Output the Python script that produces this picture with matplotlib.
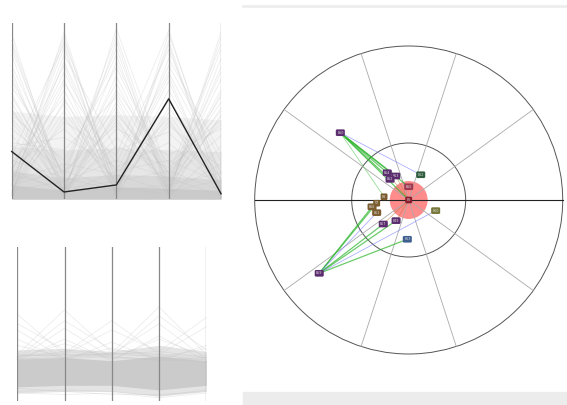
import matplotlib.pyplot as plt
from matplotlib.patches import Circle, Rectangle
from matplotlib.lines import Line2D
import numpy as np

# ---- parallel coordinates, upper panel (values normalised 0..1) ----
top_records = [
    [0.94, 0.03, 0.90, 0.02, 0.92], [0.88, 0.06, 0.70, 0.10, 0.85],
    [0.82, 0.02, 0.55, 0.04, 0.60], [0.76, 0.12, 0.93, 0.06, 0.75],
    [0.70, 0.04, 0.48, 0.15, 0.50], [0.64, 0.18, 0.82, 0.03, 0.95],
    [0.58, 0.08, 0.62, 0.20, 0.45], [0.52, 0.01, 0.50, 0.08, 0.68],
    [0.48, 0.22, 0.75, 0.12, 0.55], [0.46, 0.10, 0.46, 0.02, 0.48],
    [0.44, 0.05, 0.40, 0.25, 0.40], [0.40, 0.15, 0.86, 0.05, 0.80],
    [0.36, 0.03, 0.35, 0.10, 0.36], [0.32, 0.28, 0.58, 0.01, 0.30],
    [0.90, 0.09, 0.44, 0.07, 0.62], [0.55, 0.02, 0.97, 0.14, 0.88],
    [0.67, 0.14, 0.52, 0.04, 0.47], [0.28, 0.06, 0.30, 0.18, 0.42],
    [0.85, 0.11, 0.66, 0.09, 0.72], [0.60, 0.05, 0.78, 0.13, 0.58],
    [0.50, 0.16, 0.42, 0.06, 0.52], [0.73, 0.01, 0.60, 0.11, 0.44],
    [0.02, 0.95, 0.04, 0.90, 0.03], [0.08, 0.86, 0.02, 0.94, 0.10],
    [0.04, 0.78, 0.12, 0.70, 0.02], [0.15, 0.92, 0.06, 0.58, 0.06],
    [0.03, 0.66, 0.20, 0.85, 0.14], [0.20, 0.58, 0.03, 0.49, 0.04],
    [0.06, 0.50, 0.09, 0.76, 0.22], [0.11, 0.72, 0.15, 0.46, 0.01],
    [0.01, 0.47, 0.05, 0.62, 0.08], [0.25, 0.88, 0.01, 0.52, 0.12],
    [0.05, 0.44, 0.25, 0.96, 0.05], [0.09, 0.62, 0.07, 0.42, 0.18],
    [0.18, 0.40, 0.11, 0.67, 0.03], [0.03, 0.82, 0.28, 0.38, 0.09],
    [0.12, 0.54, 0.02, 0.80, 0.26], [0.30, 0.35, 0.18, 0.32, 0.07],
    [0.07, 0.90, 0.10, 0.56, 0.11], [0.13, 0.68, 0.04, 0.88, 0.02],
    [0.02, 0.56, 0.16, 0.72, 0.15], [0.16, 0.76, 0.08, 0.44, 0.06],
    [0.14, 0.06, 0.10, 0.16, 0.05], [0.22, 0.12, 0.05, 0.08, 0.15],
    [0.10, 0.20, 0.14, 0.04, 0.11], [0.05, 0.10, 0.22, 0.12, 0.02],
    [0.17, 0.03, 0.16, 0.22, 0.09], [0.08, 0.16, 0.06, 0.03, 0.20],
]
# density layers near the bottom (upper edge per axis, light to dark)
top_layers = [([0.50, 0.47, 0.48, 0.47, 0.45], '#f3f3f3'),
              ([0.30, 0.28, 0.29, 0.28, 0.27], '#e6e6e6'),
              ([0.16, 0.12, 0.14, 0.13, 0.11], '#d8d8d8'),
              ([0.08, 0.05, 0.07, 0.06, 0.05], '#cacaca')]
selected = [0.27, 0.04, 0.08, 0.57, 0.03]

# ---- parallel coordinates, lower panel ----
bottom_records = [
    [0.56, 0.30, 0.28, 0.27, 0.25], [0.50, 0.33, 0.30, 0.29, 0.28],
    [0.46, 0.27, 0.29, 0.26, 0.27], [0.30, 0.59, 0.31, 0.28, 0.27],
    [0.28, 0.52, 0.33, 0.30, 0.26], [0.27, 0.47, 0.28, 0.27, 0.28],
    [0.29, 0.31, 0.52, 0.30, 0.29], [0.27, 0.30, 0.46, 0.32, 0.28],
    [0.30, 0.29, 0.31, 0.61, 0.30], [0.28, 0.32, 0.29, 0.55, 0.33],
    [0.27, 0.28, 0.30, 0.50, 0.27], [0.29, 0.30, 0.30, 0.32, 0.54],
    [0.27, 0.28, 0.31, 0.30, 0.48], [0.40, 0.26, 0.38, 0.26, 0.36],
    [0.26, 0.40, 0.26, 0.42, 0.26], [0.36, 0.28, 0.34, 0.28, 0.34],
    [0.28, 0.37, 0.27, 0.40, 0.29],
    [0.05, 0.04, 0.05, 0.02, 0.05], [0.06, 0.07, 0.06, 0.03, 0.07],
    [0.08, 0.06, 0.04, 0.04, 0.06],
]
bottom_layers = [([0.05, 0.06, 0.06, 0.03, 0.06], [0.33, 0.34, 0.32, 0.36, 0.32], '#e4e4e4'),
                 ([0.09, 0.10, 0.10, 0.07, 0.10], [0.27, 0.28, 0.26, 0.29, 0.26], '#cbcbcb')]

# ---- radial graph (outer ring radius = 1) ----
ring_radii = [1.0, 0.37]
spoke_angles = [36, 72, 108, 144]
focus_radius = 0.123
node_labels = ['E50', 'E54', 'E53', 'E52', 'E62', 'E55', 'E0', 'E8', 'E7',
               'E56', 'E51', 'E60', 'E57', 'E49', 'E63', 'E59']
node_x = [-0.444, -0.139, -0.084, -0.121, 0.078, 0.0, 0.0, -0.160, -0.208,
          -0.238, -0.208, 0.175, -0.165, -0.082, -0.009, -0.581]
node_y = [0.437, 0.177, 0.156, 0.134, 0.164, 0.086, 0.0, 0.021, -0.021,
          -0.044, -0.082, -0.069, -0.156, -0.134, -0.255, -0.476]
node_colors = ['#5b2d6e', '#5b2d6e', '#5b2d6e', '#5b2d6e', '#2e5e3e', '#a03a50',
               '#8a1c2c', '#7a5c2e', '#7a5c2e', '#7a5c2e', '#7a5c2e', '#77773a',
               '#5b2d6e', '#5b2d6e', '#3f5f8f', '#5b2d6e']
# (from, to, kind)
edges = [
    (0, 1, 'g'), (0, 2, 'g'), (0, 3, 'g'), (0, 6, 'g'), (0, 5, 'g'),
    (0, 7, 'lg'), (0, 4, 'b'),
    (15, 8, 'g'), (15, 9, 'g'), (15, 12, 'g'), (15, 13, 'g'), (15, 14, 'g'),
    (15, 11, 'b'), (15, 10, 'b'),
    (1, 6, 'o'), (2, 6, 'o'), (12, 6, 'o'), (13, 6, 'o'),
]
edge_style = {'g': ('#2db52d', 0.9, 0.7), 'lg': ('#66cc66', 0.5, 0.8),
              'b': ('#7777ff', 0.5, 0.7), 'o': ('#b87333', 0.5, 0.6)}

W, H = 567, 405
fig = plt.figure(figsize=(W / 100, H / 100), dpi=100)


def px_axes(x0, y0, x1, y1):
    return fig.add_axes([x0 / W, 1 - y1 / H, (x1 - x0) / W, (y1 - y0) / H])


def parallel(ax, records, layers):
    xs = np.arange(5)
    for lo, hi, c in layers:
        ax.fill_between(xs, lo, hi, color=c, lw=0, clip_on=False)
    for r in records:
        ax.plot(xs, r, color='#c4c4c4', alpha=0.3, lw=0.6, clip_on=False)
    for x in xs:
        ax.axvline(x, color='#888888', lw=0.9)
    ax.set_xlim(0, 4)
    ax.set_ylim(0, 1)
    ax.axis('off')


ax1 = px_axes(11.7, 23.3, 221, 199)
parallel(ax1, top_records, [([0] * 5, hi, c) for hi, c in top_layers])
ax1.plot(range(5), selected, color='#222222', lw=1.0, clip_on=False)

ax2 = px_axes(17.3, 246.7, 206.3, 400.7)
parallel(ax2, bottom_records, bottom_layers)

# right panel
cx, cy, s = 408.7, 200.0, 154.0
ax3 = px_axes(243, 15, 567, 385)
ax3.set_xlim((243 - cx) / s, (567 - cx) / s)
ax3.set_ylim((cy - 385) / s, (cy - 15) / s)
ax3.axis('off')

for r in ring_radii:
    ax3.add_patch(Circle((0, 0), r, fill=False, ec='#555555', lw=0.7))
ax3.plot([-1, 1], [0, 0], color='#222222', lw=0.8)
for a in spoke_angles:
    t = np.deg2rad(a)
    ax3.plot([-np.cos(t), np.cos(t)], [-np.sin(t), np.sin(t)], color='#aaaaaa', lw=0.6)
ax3.add_patch(Circle((0, 0), focus_radius, color='#ff4d4d', alpha=0.65, lw=0))

for i, j, k in edges:
    c, lw, al = edge_style[k]
    ax3.plot([node_x[i], node_x[j]], [node_y[i], node_y[j]], color=c, lw=lw, alpha=al)

for lab, x, y, c in zip(node_labels, node_x, node_y, node_colors):
    ax3.text(x, y, lab, fontsize=2.4, color='#dddddd', ha='center', va='center',
             bbox=dict(boxstyle='round,pad=0.4', fc=c, ec='none'))

# panel chrome
fig.add_artist(Line2D([243 / W, 567 / W], [1 - 6 / H, 1 - 6 / H], color='#eeeeee', lw=2))
fig.add_artist(Rectangle((243 / W, 0), 324 / W, 13 / H, color='#ececec',
                         transform=fig.transFigure))

plt.savefig('out.png', dpi=100)
